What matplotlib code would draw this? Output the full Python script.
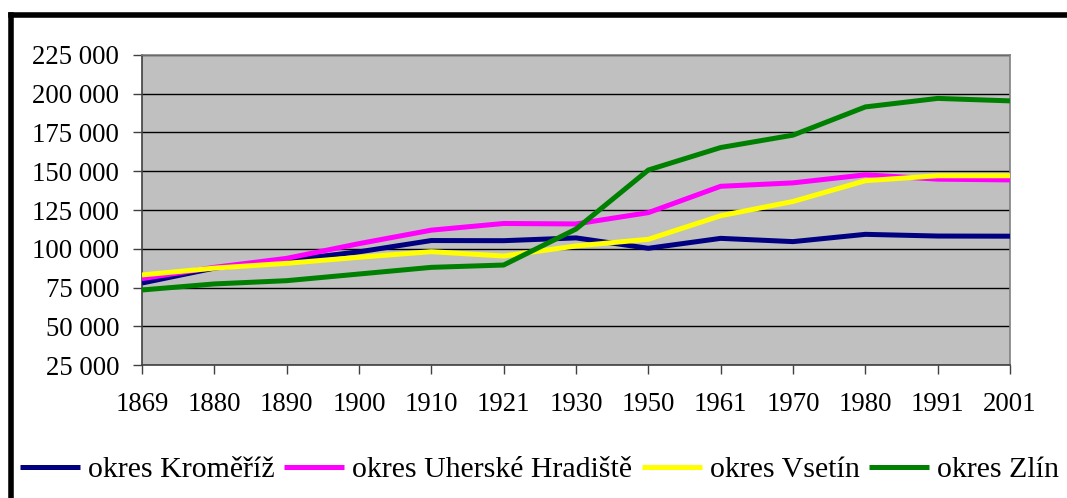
import matplotlib
matplotlib.use("Agg")
import matplotlib.pyplot as plt
from matplotlib.lines import Line2D
from matplotlib.ticker import FuncFormatter

plt.rcParams["font.family"] = ["Liberation Serif", "DejaVu Serif"]

years = ["1869", "1880", "1890", "1900", "1910", "1921", "1930",
         "1950", "1961", "1970", "1980", "1991", "2001"]
kromeriz = [77900, 87500, 92500, 98000, 105300, 105200, 107000,
            100300, 106700, 104600, 109300, 108200, 108100]
uh_hradiste = [80700, 88000, 93800, 103300, 112000, 116300, 116000,
               123300, 140300, 142500, 147700, 144900, 144400]
vsetin = [83100, 87500, 90600, 94500, 98100, 95300, 101800,
          106100, 121300, 130500, 143900, 147100, 147100]
zlin = [73400, 77300, 79400, 83700, 88000, 89500, 112700,
        150800, 165300, 173300, 191500, 197000, 195400]

series = [
    ("okres Kroměříž", kromeriz, "#000080"),
    ("okres Uherské Hradiště", uh_hradiste, "#ff00ff"),
    ("okres Vsetín", vsetin, "#ffff00"),
    ("okres Zlín", zlin, "#008000"),
]

FS = 19.3

fig = plt.figure(figsize=(10.67, 4.98), dpi=100)
ax = fig.add_axes([142 / 1067, 1 - 365 / 498, 868 / 1067, 310 / 498])
ax.set_facecolor("#c0c0c0")

x = list(range(len(years)))
for name, vals, col in series:
    ax.plot(x, vals, color=col, lw=3.6, label=name, solid_capstyle="butt", zorder=3)

ax.set_xlim(0, len(years) - 1)
ax.set_ylim(25000, 225000)
ax.set_yticks(range(25000, 225001, 25000))
ax.yaxis.set_major_formatter(FuncFormatter(lambda v, p: f"{int(v):,}".replace(",", " ")))
ax.set_xticks(x)
ax.set_xticklabels(years)
ax.grid(axis="y", color="black", lw=1.0, zorder=1)
ax.set_axisbelow(True)

for s in ["left", "bottom"]:
    ax.spines[s].set_color("#404040")
    ax.spines[s].set_linewidth(1.2)
for s in ["top", "right"]:
    ax.spines[s].set_color("#808080")
    ax.spines[s].set_linewidth(1.2)

ax.tick_params(axis="both", labelsize=FS, length=6.5, color="#404040", width=1)
ax.tick_params(axis="x", pad=13)
ax.tick_params(axis="y", pad=10)

leg = fig.legend(loc="center", bbox_to_anchor=(539.5 / 1067, 1 - 470 / 498), ncol=4,
                 frameon=False, fontsize=21.5, handlelength=2.0, handletextpad=0.27,
                 columnspacing=0.33, borderaxespad=0, borderpad=0)

# outer chart frame (left and top edges visible)
fig.add_artist(Line2D([10.5 / 1067, 10.5 / 1067], [0, 1 - 15.5 / 498],
                      transform=fig.transFigure, color="black", lw=4, solid_capstyle="projecting"))
fig.add_artist(Line2D([10.5 / 1067, 1], [1 - 15.5 / 498, 1 - 15.5 / 498],
                      transform=fig.transFigure, color="black", lw=4, solid_capstyle="projecting"))

fig.savefig("out.png", dpi=100)
